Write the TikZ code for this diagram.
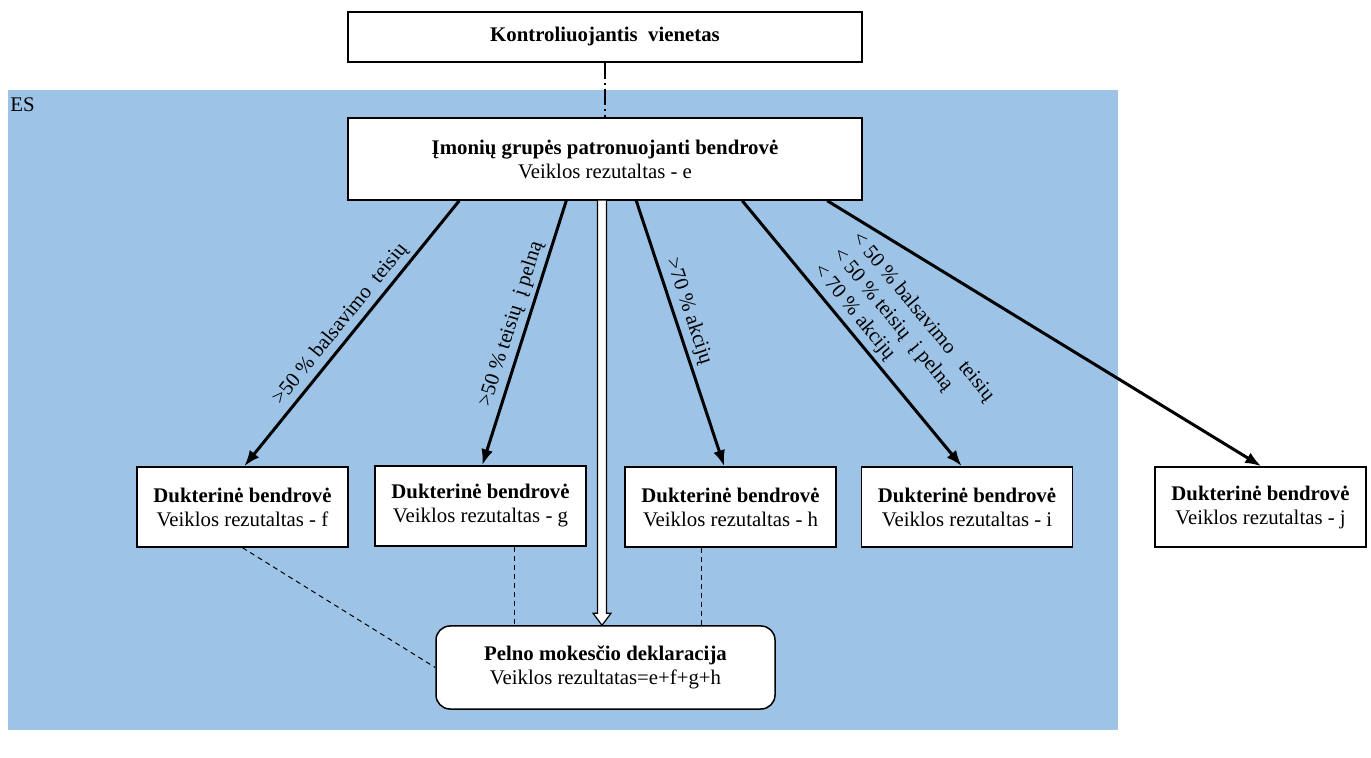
\documentclass[tikz,border=0pt]{standalone}
\usepackage{fontspec}
\setmainfont{Liberation Serif}
\usetikzlibrary{arrows.meta,calc}
\definecolor{esblue}{RGB}{157,195,230}
\begin{document}
\begin{tikzpicture}[x=0.5pt,y=-0.5pt,
  font=\fontsize{10.4}{12}\selectfont,
  box/.style={draw=black,line width=0.75pt,fill=white,align=center,inner sep=0pt,
    minimum width=105.5pt,minimum height=40pt},
  bigbox/.style={draw=black,line width=0.75pt,fill=white,align=center,inner sep=0pt,
    minimum width=257pt},
  arr/.style={line width=1.5pt,-{Latex[length=8pt,width=6pt]}},
  dsh/.style={line width=0.5pt,dash pattern=on 2.5pt off 2pt},
  lbl/.style={sloped,inner sep=2pt,align=left,font=\fontsize{10.4}{12.5}\selectfont}]
\useasboundingbox (0,0) rectangle (1371,758);
\fill[esblue] (8,90) rectangle (1118,730);
\node[anchor=base west,inner sep=0pt] (es) at (10,112) {ES};

\node[bigbox,minimum height=25pt] (top) at (605,37) {\textbf{Kontroliuojantis\ \ vienetas}};
\node[bigbox,minimum height=41pt] (p) at (605,159) {\textbf{Įmonių grupės patronuojanti bendrovė}\\Veiklos rezutaltas - e};

\node[box] (f) at (242.5,507) {\textbf{Dukterinė bendrovė}\\Veiklos rezutaltas - f};
\node[box] (g) at (480.5,506) {\textbf{Dukterinė bendrovė}\\Veiklos rezutaltas - g};
\node[box] (h) at (730.5,507) {\textbf{Dukterinė bendrovė}\\Veiklos rezutaltas - h};
\node[box] (i) at (967,507) {\textbf{Dukterinė bendrovė}\\Veiklos rezutaltas - i};
\node[box] (j) at (1260.5,507) {\textbf{Dukterinė bendrovė}\\Veiklos rezutaltas - j};

\node[draw=black,line width=0.75pt,fill=white,rounded corners=7pt,align=center,inner sep=0pt,
  minimum width=169.5pt,minimum height=41.5pt] (pd) at (605.5,667.5)
  {\textbf{Pelno mokesčio deklaracija}\\Veiklos rezultatas=e+f+g+h};

% dash-dot link
\draw[line width=0.6pt,dash pattern=on 8pt off 2pt on 1pt off 2pt] (top.south) -- (p.north);

% arrows
\draw[arr] ($(p.south west)+(112,0)$) -- node[lbl,pos=0.5,above]{>50 \% balsavimo\ \ teisių} ($(f.north west)+(108,0)$);
\draw[arr] ($(p.south west)+(219,0)$) -- node[lbl,pos=0.485,above]{>50 \% teisių\ \ į pelną} ($(g.north west)+(108,0)$);
\draw[arr] ($(p.south west)+(289,0)$) -- node[lbl,pos=0.435,above]{>70 \% akcijų} ($(h.north west)+(100,0)$);
\draw[arr] ($(p.south west)+(395,0)$) -- node[lbl,pos=0.595,above]{< 50 \% balsavimo\ \ \ teisių\\< 50 \% teisių\ \ į pelną\\< 70 \% akcijų} ($(i.north west)+(101,0)$);
\draw[arr] ($(p.south west)+(480,0)$) -- ($(j.north west)+(107,0)$);

% dashed links
\draw[dsh] (f.south) -- (pd.west);
\draw[dsh] ($(g.south)+(33.5,0)$) coordinate (g1) -- (g1 |- pd.north);
\draw[dsh] ($(h.south)+(-29.5,0)$) coordinate (h1) -- (h1 |- pd.north);

% hollow double arrow
\coordinate (da1) at ($(p.south)+(-3,0)$);
\coordinate (da2) at ($(pd.north)+(-3.5,0)$);
\draw[fill=white,line width=0.6pt,line join=miter]
  ($(da1)+(-4.5,0)$) -- ($(da2)+(-4.5,-12)$) -- ($(da2)+(-9,-12)$) -- (da2)
  -- ($(da2)+(9,-12)$) -- ($(da2)+(4.5,-12)$) -- ($(da1)+(4.5,0)$);
\end{tikzpicture}
\end{document}
